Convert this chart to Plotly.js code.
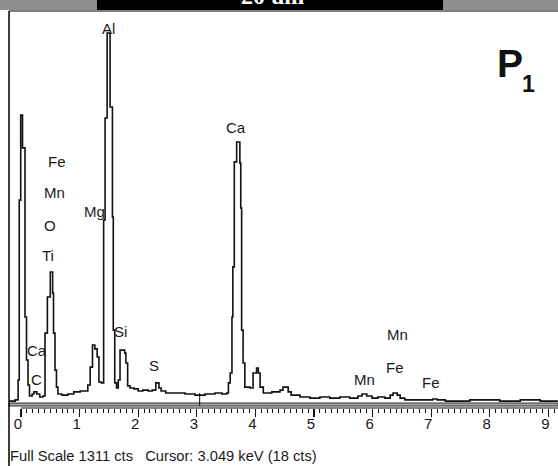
<!DOCTYPE html>
<html>
<head>
<meta charset="utf-8">
<script src="https://cdn.plot.ly/plotly-3.0.1.min.js"></script>
<style>
html,body{margin:0;padding:0;background:#fff;}
#chart{width:558px;height:466px;}
</style>
</head>
<body>
<div id="chart"></div>
<script>
// ---- Data (energy in keV, counts in cts) ----
var energyKeV = [-0.205,-0.10,-0.05,-0.03,-0.005,0.026,0.068,0.094,0.12,0.145,0.19,0.22,0.27,0.32,0.375,
  0.41,0.45,0.50,0.54,0.555,0.58,0.605,0.63,0.70,0.80,0.90,1.01,1.09,1.14,1.18,1.22,1.26,1.30,1.33,1.37,
  1.41,1.435,1.47,1.52,1.56,1.575,1.60,1.63,1.66,1.69,1.77,1.79,1.82,1.86,1.93,2.00,2.08,2.17,2.24,2.30,
  2.355,2.39,2.47,2.63,2.80,2.97,3.14,3.31,3.43,3.51,3.54,3.57,3.60,3.615,3.64,3.68,3.735,3.75,3.765,3.79,
  3.82,3.91,3.96,4.02,4.05,4.08,4.135,4.28,4.42,4.47,4.56,4.61,4.76,4.93,5.10,5.27,5.44,5.61,5.75,5.82,
  5.90,5.99,6.09,6.21,6.30,6.35,6.42,6.47,6.55,7.03,7.10,7.24,7.66,8.17,8.52,8.86,9.16];
var counts = [3,7,74,677,962,852,285,141,57,20,27,34,27,17,20,
  231,352,436,365,231,107,50,27,23,27,34,37,37,57,117,191,178,151,67,64,
  610,952,1237,989,620,241,64,47,74,174,164,131,54,47,44,37,40,37,40,64,
  47,37,30,30,27,23,27,30,27,30,64,97,285,453,805,872,801,650,241,131,
  50,47,97,114,97,50,30,34,40,50,34,23,17,13,17,13,17,13,20,27,
  20,13,17,13,23,30,23,13,7,10,7,3,7,3,7,3,3];

var labelText = ["Al","Ca","Fe","Mn","O","Ti","Mg","Ca","C","Si","S","Mn","Fe","Mn","Fe"];
var labelKeV  = [1.485,3.669,0.614,0.580,0.495,0.461,1.246,0.273,0.256,1.706,2.270,6.433,6.382,5.870,6.997];
var labelCts  = [1254,919,808,701,593,490,640,174,74,235,124,225,117,74,64];

var majorTicks = [0,1,2,3,4,5,6,7,8,9];
var majorTickText = ["0","1","2","3","4","5","6","7","8","9"];
var fullScale = 1311;
var cursorKeV = 3.049;
var cursorCts = 18;
var footerText = "Full Scale 1311 cts   Cursor: 3.049 keV (18 cts)";
var bannerText = "20 um";

// ---- layout helpers (pixel geometry of the screenshot) ----
var W = 558, H = 466, mL = 9, mR = 0, mT = 11, mB = 58;
var plotW = W - mL - mR, plotH = H - mT - mB;
function pxX(px){ return (px - mL) / plotW; }
function pxY(py){ return 1 - (py - mT) / plotH; }

var minorTicks = [];
for (var i = 0; i <= 91; i++) { if (i % 10 !== 0) minorTicks.push(i / 10); }

var FONT = "Liberation Sans, Arial, sans-serif";

var annotations = labelText.map(function(t, i){
  return {x: labelKeV[i], y: labelCts[i], xref:'x', yref:'y', text: t, showarrow:false,
          font:{family:FONT, size:15, color:'#1a1a1a'}, xanchor:'center', yanchor:'middle'};
});
annotations.push({x: pxX(495), y: pxY(63), xref:'paper', yref:'paper', text:'<b>P</b>', showarrow:false,
  font:{family:FONT, size:39, color:'#111'}, xanchor:'left', yanchor:'middle'});
annotations.push({x: pxX(520), y: pxY(84), xref:'paper', yref:'paper', text:'<b>1</b>', showarrow:false,
  font:{family:FONT, size:23, color:'#111'}, xanchor:'left', yanchor:'middle'});
annotations.push({x: pxX(8), y: pxY(456), xref:'paper', yref:'paper', text: footerText, showarrow:false,
  font:{family:FONT, size:14.7, color:'#1a1a1a'}, xanchor:'left', yanchor:'middle'});
annotations.push({x: pxX(272), y: pxY(11), xref:'paper', yref:'paper', text: '<b>'+bannerText+'</b>', showarrow:false,
  font:{family:'Liberation Serif, serif', size:24, color:'#fff'}, xanchor:'center', yanchor:'bottom'});

var shapes = [
  // top banner
  {type:'rect', xref:'paper', yref:'paper', x0:pxX(0), x1:pxX(558), y0:pxY(10), y1:pxY(0), fillcolor:'#8e8e8e', line:{width:0}, layer:'below'},
  {type:'rect', xref:'paper', yref:'paper', x0:pxX(97), x1:pxX(443), y0:pxY(10), y1:pxY(0), fillcolor:'#000', line:{width:0}, layer:'below'},
  // frame
  {type:'line', xref:'paper', yref:'paper', x0:pxX(9), x1:pxX(558), y0:1, y1:1, line:{color:'#555', width:1.5}},
  {type:'line', xref:'paper', yref:'paper', x0:pxX(9), x1:pxX(9), y0:pxY(466), y1:1, line:{color:'#000', width:1.5}},
  // baseline band
  {type:'rect', xref:'paper', yref:'y', x0:0, x1:1, y0:-13.4, y1:-3.35, fillcolor:'#a8a8a8', line:{color:'#333', width:1}, layer:'below'},
  // tick axis line
  {type:'line', xref:'x', yref:'paper', x0:0, x1:9.2, y0:0, y1:0, line:{color:'#111', width:1.2}},
  // cursor mark
  {type:'line', xref:'x', yref:'y', x0:cursorKeV, x1:cursorKeV, y0:-13, y1:cursorCts + 12, line:{color:'#111', width:1}}
];

var trace = {
  x: energyKeV, y: counts, type:'scatter', mode:'lines',
  line:{shape:'hv', color:'#111', width:1.6}, hoverinfo:'skip'
};

var layout = {
  width: W, height: H,
  margin:{l:mL, r:mR, t:mT, b:mB, pad:0},
  paper_bgcolor:'#fff', plot_bgcolor:'#fff',
  showlegend:false,
  xaxis:{range:[-0.2048, 9.164], showgrid:false, zeroline:false, showline:false,
    tickmode:'array', tickvals: majorTicks, ticktext: majorTickText,
    ticks:'outside', ticklen:8, tickwidth:1.2, tickcolor:'#111',
    ticklabelshift:-3, ticklabelstandoff:-6,
    tickfont:{family:FONT, size:15, color:'#1a1a1a'},
    minor:{tickmode:'array', tickvals: minorTicks, ticks:'outside', ticklen:4, tickwidth:1, tickcolor:'#111', showgrid:false}
  },
  yaxis:{range:[-20.1, fullScale], showgrid:false, zeroline:false, showline:false,
    showticklabels:false, ticks:''},
  annotations: annotations,
  shapes: shapes
};

Plotly.newPlot('chart', [trace], layout, {displayModeBar:false, staticPlot:true});
</script>
</body>
</html>
